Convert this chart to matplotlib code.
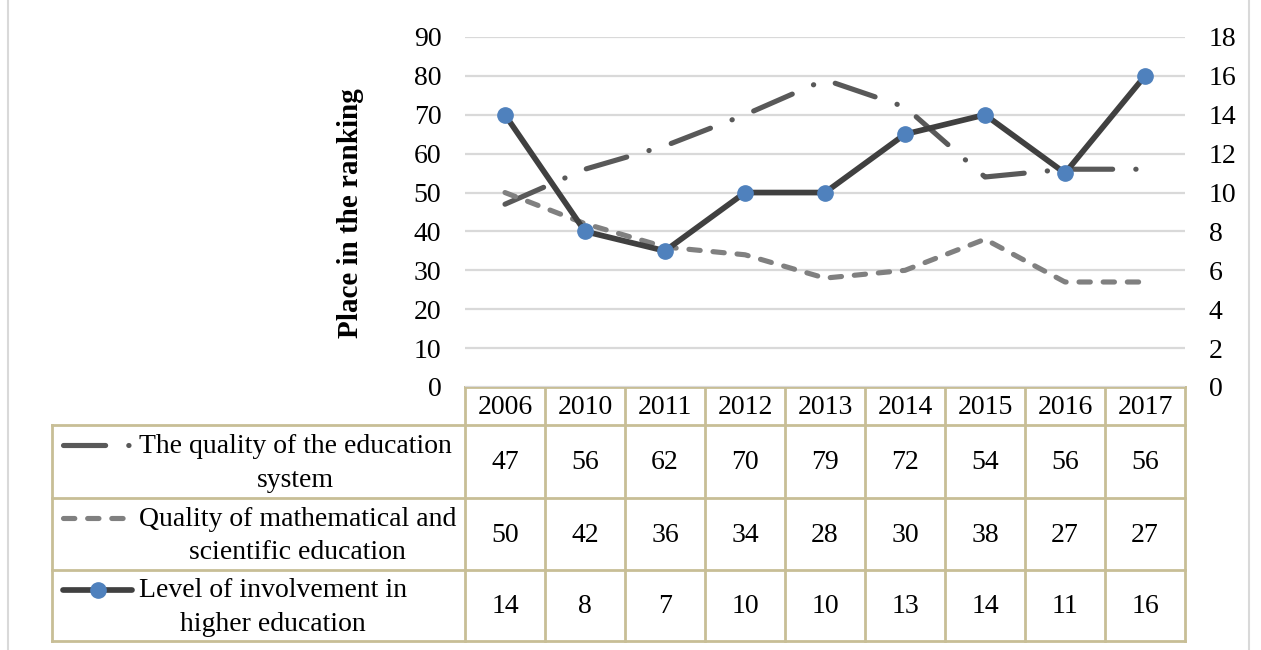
import matplotlib
matplotlib.use("Agg")
import matplotlib.pyplot as plt
from matplotlib.lines import Line2D
from matplotlib.transforms import blended_transform_factory

# --- data -------------------------------------------------------------
years = ["2006", "2010", "2011", "2012", "2013", "2014", "2015", "2016", "2017"]
edu_system_quality = [47, 56, 62, 70, 79, 72, 54, 56, 56]
math_sci_quality = [50, 42, 36, 34, 28, 30, 38, 27, 27]
higher_edu_involvement = [14, 8, 7, 10, 10, 13, 14, 11, 16]

series_labels = [
    "The quality of the education\nsystem",
    "Quality of mathematical and\nscientific education",
    "Level of involvement in\nhigher education",
]
left_ticks = list(range(0, 91, 10))
right_ticks = list(range(0, 19, 2))

# --- styling ------------------------------------------------------------
plt.rcParams["font.family"] = ["Liberation Serif", "DejaVu Serif"]
FS = 20
W, H = 1261, 650
GRID = "#D9D9D9"
TABLE = "#C8BE96"

s1 = dict(color="#595959", lw=3.7, dashes=(8.2, 4.5, 0.05, 4.5),
          dash_capstyle="round", solid_capstyle="round")
s2 = dict(color="#808080", lw=3.7, dashes=(2.2, 2.5),
          dash_capstyle="round", solid_capstyle="round")
s3 = dict(color="#404040", lw=4.1, marker="o", markersize=11,
          markerfacecolor="#4F81BD", markeredgecolor="#4F81BD",
          solid_capstyle="round")

fig = plt.figure(figsize=(W / 100, H / 100), dpi=100)

# overlay in pixel coordinates for the data table and frame
ov = fig.add_axes([0, 0, 1, 1], zorder=0)
ov.set_xlim(0, W)
ov.set_ylim(H, 0)
ov.axis("off")

x0, x1, ytop, ybot = 465, 1185, 37, 387
ax = fig.add_axes([x0 / W, 1 - ybot / H, (x1 - x0) / W, (ybot - ytop) / H], zorder=2)
ax.patch.set_alpha(0)
xs = list(range(len(years)))
ax.set_xlim(-0.5, len(years) - 0.5)
ax.set_ylim(0, 90)
ax.set_yticks(left_ticks)
ax.set_xticks([])
ax.yaxis.grid(True, color=GRID, lw=1.6)
ax.set_axisbelow(True)
for sp in ax.spines.values():
    sp.set_visible(False)
ax.tick_params(axis="y", length=0, pad=17, labelsize=FS)

ax.plot(xs, edu_system_quality, **s1)
ax.plot(xs, math_sci_quality, **s2)

ax2 = ax.twinx()
ax2.set_ylim(0, 18)
ax2.set_yticks(right_ticks)
for sp in ax2.spines.values():
    sp.set_visible(False)
ax2.tick_params(axis="y", length=0, pad=17, labelsize=FS)
ax2.plot(xs, higher_edu_involvement, **s3)

# axis title
ov.text(350, 213, "Place in the ranking", rotation=90, ha="center", va="center",
        fontsize=21, fontweight="bold")

# --- data table ----------------------------------------------------------
rows_y = [387, 425, 498, 570, 641]
tab_left = 52
lk = dict(color=TABLE, lw=2.0, solid_capstyle="projecting")
ov.add_line(Line2D([x0, x1], [rows_y[0], rows_y[0]], **lk))
for y in rows_y[1:]:
    ov.add_line(Line2D([tab_left, x1], [y, y], **lk))
ov.add_line(Line2D([tab_left, tab_left], [rows_y[1], rows_y[-1]], **lk))
col_edges = [x0 + i * (x1 - x0) / len(years) for i in range(len(years) + 1)]
for cx in col_edges:
    ov.add_line(Line2D([cx, cx], [rows_y[0], rows_y[-1]], **lk))

tr = blended_transform_factory(ax.transData, ov.transData)
for i, yr in enumerate(years):
    ov.text(i, (rows_y[0] + rows_y[1]) / 2 + 1, yr, transform=tr,
            ha="center", va="center", fontsize=FS)
for r, vals in enumerate([edu_system_quality, math_sci_quality, higher_edu_involvement]):
    yc = (rows_y[r + 1] + rows_y[r + 2]) / 2
    for i, v in enumerate(vals):
        ov.text(i, yc + 1, str(v), transform=tr, ha="center", va="center", fontsize=FS)

# legend keys and labels in the first column
styles = [s1, s2, s3]
key_spans = [(63, 130), (63, 124), (63, 132)]
for r, (st, lab, (ka, kb)) in enumerate(zip(styles, series_labels, key_spans)):
    ytxt = rows_y[r + 1] + 20
    kw = {k: v for k, v in st.items() if k not in ("marker", "markersize",
                                                   "markerfacecolor", "markeredgecolor")}
    ov.add_line(Line2D([ka, kb], [ytxt, ytxt], **kw))
    if "marker" in st:
        ov.add_line(Line2D([(ka + kb) / 2], [ytxt], linestyle="none", marker="o",
                           markersize=st["markersize"],
                           markerfacecolor=st["markerfacecolor"],
                           markeredgecolor=st["markeredgecolor"]))
    ov.text(139, (rows_y[r + 1] + rows_y[r + 2]) / 2 + 2, lab, ha="left", va="center",
            multialignment="center", fontsize=FS, linespacing=1.45)

# outer frame edges
for fx in (8, 1249):
    ov.add_line(Line2D([fx, fx], [0, H], color="#D9D9D9", lw=1.5))

fig.savefig("out.png", dpi=100)
